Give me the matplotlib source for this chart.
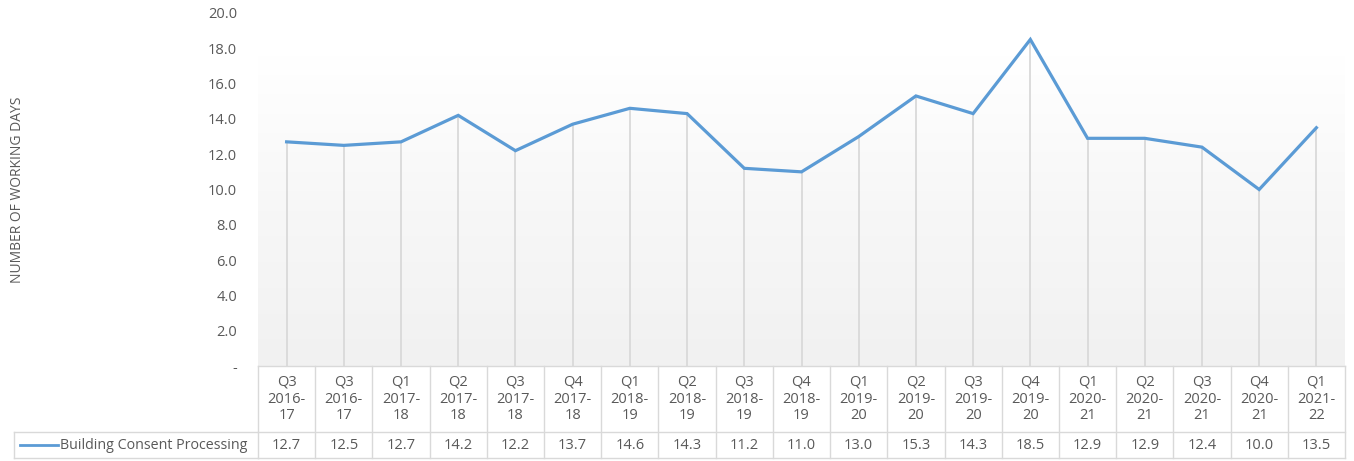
import matplotlib
matplotlib.use("Agg")
import matplotlib.pyplot as plt
import numpy as np
from matplotlib.lines import Line2D
from matplotlib.transforms import blended_transform_factory
from matplotlib.colors import LinearSegmentedColormap

categories = ["Q3\n2016-\n17", "Q3\n2016-\n17", "Q1\n2017-\n18", "Q2\n2017-\n18", "Q3\n2017-\n18",
              "Q4\n2017-\n18", "Q1\n2018-\n19", "Q2\n2018-\n19", "Q3\n2018-\n19", "Q4\n2018-\n19",
              "Q1\n2019-\n20", "Q2\n2019-\n20", "Q3\n2019-\n20", "Q4\n2019-\n20", "Q1\n2020-\n21",
              "Q2\n2020-\n21", "Q3\n2020-\n21", "Q4\n2020-\n21", "Q1\n2021-\n22"]
values = [12.7, 12.5, 12.7, 14.2, 12.2, 13.7, 14.6, 14.3, 11.2, 11.0,
          13.0, 15.3, 14.3, 18.5, 12.9, 12.9, 12.4, 10.0, 13.5]
series_name = "Building Consent Processing"
yticks = [0, 2, 4, 6, 8, 10, 12, 14, 16, 18, 20]
ytick_labels = ["-", "2.0", "4.0", "6.0", "8.0", "10.0", "12.0", "14.0", "16.0", "18.0", "20.0"]

plt.rcParams['font.family'] = ['Open Sans', 'DejaVu Sans']
W, H = 1354, 461
fig = plt.figure(figsize=(W / 100, H / 100), dpi=100)
left, right = 258 / W, 1345 / W
bottom, top = (H - 366) / H, (H - 13) / H
ax = fig.add_axes([left, bottom, right - left, top - bottom])
n = len(values)
x = np.arange(n)
ax.set_xlim(-0.5, n - 0.5)
ax.set_ylim(0, 20)

# subtle gradient background
grad = np.linspace(0, 1, 256).reshape(-1, 1)
cmap = LinearSegmentedColormap.from_list("g", ["#f1f1f1", "#f7f7f7", "#ffffff"])
ax.imshow(grad, extent=(-0.5, n - 0.5, 0, 17.6), origin="lower", aspect="auto", cmap=cmap, zorder=0)

# drop lines
ax.vlines(x, 0, values, colors="#d9d9d9", linewidth=1.3, zorder=1)
ax.plot(x, values, color="#5B9BD5", linewidth=2.3, zorder=3, solid_joinstyle="miter")

for s in ax.spines.values():
    s.set_visible(False)
ax.set_xticks([])
ax.set_yticks(yticks)
ax.set_yticklabels(ytick_labels, color="#595959", fontsize=10.5)
ax.tick_params(axis="y", length=0, pad=15)
fig.text(18 / W, 1 - 190 / H, "NUMBER OF WORKING DAYS", rotation=90, ha="center", va="center",
         color="#595959", fontsize=10)

# data table
tr = blended_transform_factory(ax.transData, fig.transFigure)
bc = "#d9d9d9"
y_top = 1 - 366 / H
y_mid = 1 - 432 / H
y_bot = 1 - 458 / H
xl = -0.5
xr = n - 0.5
for yy in [y_top, y_mid, y_bot]:
    ax.add_line(Line2D([xl, xr], [yy, yy], transform=tr, color=bc, lw=1, clip_on=False))
for i in range(n + 1):
    ax.add_line(Line2D([i - 0.5, i - 0.5], [y_top, y_bot], transform=tr, color=bc, lw=1, clip_on=False))
# legend cell
fig.add_artist(Line2D([14 / W, left], [y_mid, y_mid], color=bc, lw=1))
fig.add_artist(Line2D([14 / W, left], [y_bot, y_bot], color=bc, lw=1))
fig.add_artist(Line2D([14 / W, 14 / W], [y_mid, y_bot], color=bc, lw=1))
fig.add_artist(Line2D([20 / W, 58 / W], [(y_mid + y_bot) / 2] * 2, color="#5B9BD5", lw=2))
fig.text(60 / W, (y_mid + y_bot) / 2, series_name, ha="left", va="center", color="#595959", fontsize=10.3)

for i, (c, v) in enumerate(zip(categories, values)):
    ax.text(i, (y_top + y_mid) / 2, c, transform=tr, ha="center", va="center", color="#595959",
            fontsize=10.5, linespacing=1.15, clip_on=False)
    ax.text(i, (y_mid + y_bot) / 2, f"{v:.1f}", transform=tr, ha="center", va="center", color="#595959",
            fontsize=10.5, clip_on=False)

fig.savefig("out.png", dpi=100, facecolor="white")
